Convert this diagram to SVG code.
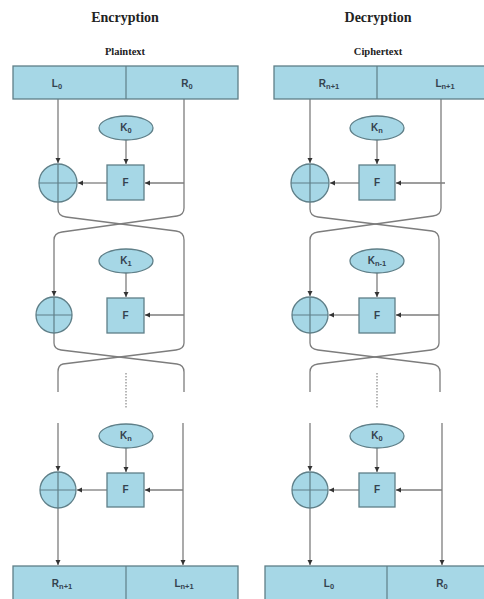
<svg xmlns="http://www.w3.org/2000/svg" width="484" height="599" viewBox="0 0 484 599">
<style>
.title{font-family:"Liberation Serif",serif;font-weight:bold;font-size:14px;fill:#222;text-anchor:middle}
.sub{font-family:"Liberation Serif",serif;font-weight:bold;font-size:10.5px;fill:#222;text-anchor:middle}
.box{fill:#a6d7e6;stroke:#5f7f88;stroke-width:1.3}
.lbl{font-family:"Liberation Sans",sans-serif;font-weight:bold;font-size:10px;fill:#34424f;text-anchor:middle}
.s{font-size:7.5px}
.ln{fill:none;stroke:#7d7d7d;stroke-width:1.3}
.dot{fill:none;stroke:#888;stroke-width:1.2;stroke-dasharray:1.5 1.5}
.x{fill:none;stroke:#5f7f88;stroke-width:1.2}
</style>
<defs>
<marker id="ah" markerWidth="6" markerHeight="6" refX="5" refY="3" orient="auto" markerUnits="userSpaceOnUse">
<path d="M0,0.5 L5,3 L0,5.5 Z" fill="#333"/>
</marker>
</defs>
<rect width="484" height="599" fill="#fff"/>
<text class="title" x="125" y="22">Encryption</text>
<text class="sub" x="125" y="55">Plaintext</text>
<text class="title" x="378" y="22">Decryption</text>
<text class="sub" x="378" y="55">Ciphertext</text>

<g id="connectors">
<!-- encryption -->
<path class="ln" d="M58,99 V163" marker-end="url(#ah)"/>
<path class="ln" d="M126,140 V164" marker-end="url(#ah)"/>
<path class="ln" d="M184,183 H145" marker-end="url(#ah)"/>
<path class="ln" d="M107,183 H78" marker-end="url(#ah)"/>
<path class="ln" d="M58,202 V209 Q58,216 66,217 L176,231 Q184,232 184,240 V343 Q184,349 176,350 L63,364 Q58,365 58,372 V392"/>
<path class="ln" d="M184,99 V208 Q184,215 177,216 L62,232 Q54,233 54,240 V296" marker-end="url(#ah)"/>
<path class="ln" d="M54,333 V343 Q54,349 61,350 L177,364 Q184,365 184,372 V392"/>
<path class="ln" d="M126,273 V297" marker-end="url(#ah)"/>
<path class="ln" d="M184,315 H145" marker-end="url(#ah)"/>
<path class="dot" d="M126,373 V408"/>
<path class="ln" d="M58,423 V471" marker-end="url(#ah)"/>
<path class="ln" d="M58,508 V565" marker-end="url(#ah)"/>
<path class="ln" d="M183,423 V565" marker-end="url(#ah)"/>
<path class="ln" d="M183,490 H145" marker-end="url(#ah)"/>
<path class="ln" d="M107,490 H77" marker-end="url(#ah)"/>
<path class="ln" d="M126,448 V472" marker-end="url(#ah)"/>
<!-- decryption -->
<path class="ln" d="M310,99 V163" marker-end="url(#ah)"/>
<path class="ln" d="M377,140 V164" marker-end="url(#ah)"/>
<path class="ln" d="M445,183 H396" marker-end="url(#ah)"/>
<path class="ln" d="M359,183 H330" marker-end="url(#ah)"/>
<path class="ln" d="M310,202 V209 Q310,216 318,217 L432,231 Q439,232 439,240 V343 Q439,349 431,350 L318,364 Q310,365 310,372 V392"/>
<path class="ln" d="M441,99 V208 Q441,215 433,216 L318,232 Q310,233 310,240 V296" marker-end="url(#ah)"/>
<path class="ln" d="M310,333 V343 Q310,349 318,350 L432,364 Q440,365 440,372 V392"/>
<path class="ln" d="M377,273 V297" marker-end="url(#ah)"/>
<path class="ln" d="M439,315 H396" marker-end="url(#ah)"/>
<path class="ln" d="M359,315 H329" marker-end="url(#ah)"/>
<path class="dot" d="M377,373 V408"/>
<path class="ln" d="M310,423 V471" marker-end="url(#ah)"/>
<path class="ln" d="M310,508 V565" marker-end="url(#ah)"/>
<path class="ln" d="M442,423 V565" marker-end="url(#ah)"/>
<path class="ln" d="M442,490 H396" marker-end="url(#ah)"/>
<path class="ln" d="M359,490 H329" marker-end="url(#ah)"/>
<path class="ln" d="M377,448 V472" marker-end="url(#ah)"/>
</g>

<g id="enc-plain">
<rect class="box" x="13" y="66" width="225" height="33"/>
<line class="x" x1="126" y1="66" x2="126" y2="99"/>
<text class="lbl" x="57" y="87">L<tspan class="s" dy="2">0</tspan></text>
<text class="lbl" x="187" y="87">R<tspan class="s" dy="2">0</tspan></text>
</g>
<g id="enc-k0"><ellipse class="box" cx="126" cy="128" rx="27" ry="12"/><text class="lbl" x="126" y="131">K<tspan class="s" dy="2">0</tspan></text></g>
<g id="enc-f1"><rect class="box" x="107" y="165" width="37" height="35"/><text class="lbl" x="125.5" y="186">F</text></g>
<g id="enc-xor1"><circle class="box" cx="58" cy="183" r="19"/><path class="x" d="M39,183 H77 M58,164 V202"/></g>
<g id="enc-k1"><ellipse class="box" cx="126" cy="261" rx="27" ry="12"/><text class="lbl" x="126" y="264">K<tspan class="s" dy="2">1</tspan></text></g>
<g id="enc-f2"><rect class="box" x="107" y="298" width="37" height="35"/><text class="lbl" x="125.5" y="319">F</text></g>
<g id="enc-xor2"><circle class="box" cx="54" cy="315" r="18"/><path class="x" d="M36,315 H72 M54,297 V333"/></g>
<g id="enc-kn"><ellipse class="box" cx="126" cy="436" rx="27" ry="12"/><text class="lbl" x="126" y="439">K<tspan class="s" dy="2">n</tspan></text></g>
<g id="enc-f3"><rect class="box" x="107" y="473" width="37" height="34"/><text class="lbl" x="125.5" y="493">F</text></g>
<g id="enc-xor3"><circle class="box" cx="58" cy="490" r="18"/><path class="x" d="M40,490 H76 M58,472 V508"/></g>
<g id="enc-cipher">
<rect class="box" x="13" y="566" width="225" height="40"/>
<line class="x" x1="126" y1="566" x2="126" y2="599"/>
<text class="lbl" x="62" y="587">R<tspan class="s" dy="2">n+1</tspan></text>
<text class="lbl" x="184" y="587">L<tspan class="s" dy="2">n+1</tspan></text>
</g>

<g id="dec-cipher">
<rect class="box" x="274" y="66" width="215" height="33"/>
<line class="x" x1="377" y1="66" x2="377" y2="99"/>
<text class="lbl" x="329" y="87">R<tspan class="s" dy="2">n+1</tspan></text>
<text class="lbl" x="445" y="87">L<tspan class="s" dy="2">n+1</tspan></text>
</g>
<g id="dec-kn"><ellipse class="box" cx="377" cy="128" rx="27" ry="12"/><text class="lbl" x="377" y="131">K<tspan class="s" dy="2">n</tspan></text></g>
<g id="dec-f1"><rect class="box" x="359" y="165" width="36" height="35"/><text class="lbl" x="377" y="186">F</text></g>
<g id="dec-xor1"><circle class="box" cx="310" cy="183" r="19"/><path class="x" d="M291,183 H329 M310,164 V202"/></g>
<g id="dec-kn1"><ellipse class="box" cx="377" cy="261" rx="27" ry="12"/><text class="lbl" x="377" y="264">K<tspan class="s" dy="2">n-1</tspan></text></g>
<g id="dec-f2"><rect class="box" x="359" y="298" width="36" height="35"/><text class="lbl" x="377" y="319">F</text></g>
<g id="dec-xor2"><circle class="box" cx="310" cy="315" r="18"/><path class="x" d="M292,315 H328 M310,297 V333"/></g>
<g id="dec-k0"><ellipse class="box" cx="377" cy="436" rx="27" ry="12"/><text class="lbl" x="377" y="439">K<tspan class="s" dy="2">0</tspan></text></g>
<g id="dec-f3"><rect class="box" x="359" y="473" width="36" height="34"/><text class="lbl" x="377" y="493">F</text></g>
<g id="dec-xor3"><circle class="box" cx="310" cy="490" r="18"/><path class="x" d="M292,490 H328 M310,472 V508"/></g>
<g id="dec-plain">
<rect class="box" x="265" y="566" width="224" height="40"/>
<line class="x" x1="387" y1="566" x2="387" y2="599"/>
<text class="lbl" x="329" y="587">L<tspan class="s" dy="2">0</tspan></text>
<text class="lbl" x="442" y="587">R<tspan class="s" dy="2">0</tspan></text>
</g>
</svg>
